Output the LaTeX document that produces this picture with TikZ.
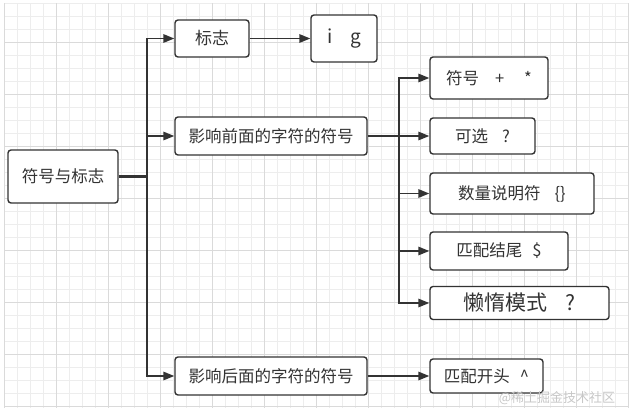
\documentclass[tikz,border=0pt]{standalone}
\usepackage{fontspec}
\setmainfont{Noto Sans CJK SC}
\usetikzlibrary{arrows.meta}
\definecolor{ink}{HTML}{333333}
\definecolor{gridlight}{HTML}{EDEDED}
\definecolor{griddark}{HTML}{DADADA}
\tikzset{
  box/.style={draw=ink, line width=1.4pt, rounded corners=3pt, fill=white, text=ink, inner sep=0pt, font=\fontsize{16.5}{18}\selectfont},
  arr/.style={draw=ink, line width=1.6pt, -{Triangle[length=11pt,width=8.5pt]}},
  trunk/.style={draw=ink, line width=2.2pt},
}
\begin{document}
\begin{tikzpicture}[x=1pt,y=-1pt]
\useasboundingbox (0,0) rectangle (629,418);
% grid
\foreach \i in {0,...,48} {
  \pgfmathsetmacro{\xx}{4.5+13*\i}
  \draw[gridlight, line width=0.8pt] (\xx,3) -- (\xx,408);
}
\foreach \i in {0,...,31} {
  \pgfmathsetmacro{\yy}{3+13*\i}
  \draw[gridlight, line width=0.8pt] (4,\yy) -- (629,\yy);
}
\foreach \i in {0,...,12} {
  \pgfmathsetmacro{\xx}{4.5+52*\i}
  \draw[griddark, line width=0.9pt] (\xx,3) -- (\xx,408);
}
\foreach \i in {0,...,7} {
  \pgfmathsetmacro{\yy}{42+52*\i}
  \draw[griddark, line width=0.9pt] (4,\yy) -- (629,\yy);
}
% nodes
\node[box, minimum width=110pt, minimum height=53pt] (root) at (63,176.5) {符号与标志};
\node[box, minimum width=74pt, minimum height=37pt, font=\fontsize{17}{19}\selectfont] (flag) at (212,38.5) {标志};
\node[box, minimum width=66pt, minimum height=47pt, font=\fontsize{19}{21}\selectfont] (ig) at (344,38.5) {i\hspace{18pt}g};
\node[box, minimum width=192pt, minimum height=38pt] (front) at (271,136) {影响前面的字符的符号};
\node[box, minimum width=192pt, minimum height=38pt] (back) at (271,376) {影响后面的字符的符号};
\node[box, minimum width=118pt, minimum height=42pt] (c1) at (489,78) {符号\hspace{16pt}+\hspace{20pt}*};
\node[box, minimum width=105pt, minimum height=36pt] (c2) at (482.5,136) {可选\hspace{14pt}?};
\node[box, minimum width=164pt, minimum height=41pt] (c3) at (512,193.5) {数量说明符\hspace{14pt}\{\}};
\node[box, minimum width=138pt, minimum height=38pt] (c4) at (499,251) {匹配结尾\hspace{10pt}\$};
\node[box, minimum width=179pt, minimum height=33pt, font=\fontsize{21}{23}\selectfont] (c5) at (519.5,303) {懒惰模式\hspace{18pt}?};
\node[box, minimum width=113pt, minimum height=34pt] (c6) at (486.5,376) {匹配开头\hspace{10pt}\textasciicircum};
% junctions
\coordinate (j1) at (147,176.5);
\coordinate (j2) at (399,136);
% connectors
\draw[trunk] (root.east) -- (j1);
\draw[arr] (j1) |- (flag.west);
\draw[arr] (j1) |- (front.west);
\draw[arr] (j1) |- (back.west);
\draw[arr] (flag.east) -- (ig.west);
\draw[trunk] (front.east) -- (j2);
\draw[arr] (j2) |- (c1.west);
\draw[arr] (j2) -- (c2.west);
\draw[arr] (j2) |- (c3.west);
\draw[arr] (j2) |- (c4.west);
\draw[arr] (j2) |- (c5.west);
\draw[arr] (back.east) -- (c6.west);
% watermark
\node[text=black!22, inner sep=0pt, font=\fontsize{13}{14}\selectfont] (wm) at (557,398) {@稀土掘金技术社区};
\end{tikzpicture}
\end{document}
